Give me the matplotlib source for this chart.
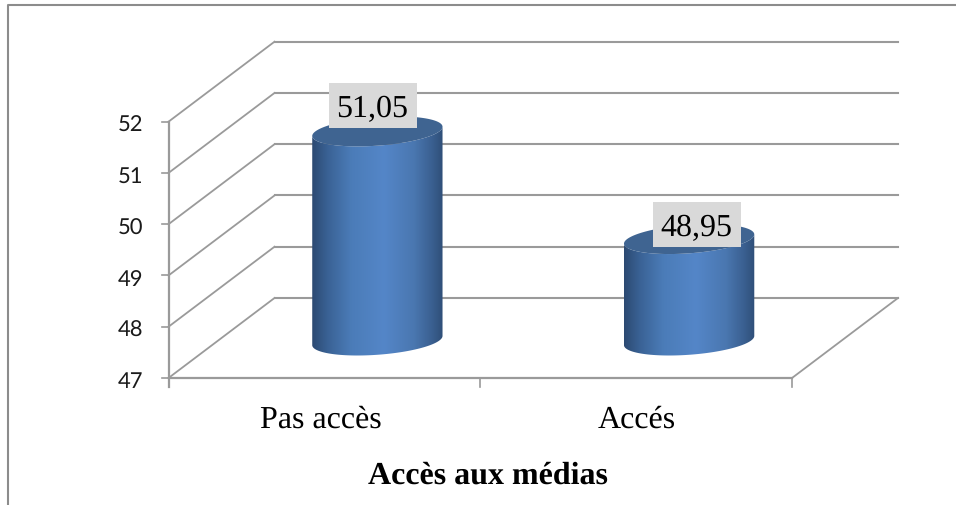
import numpy as np
import matplotlib
matplotlib.use('Agg')
import matplotlib.pyplot as plt
from matplotlib.colors import LinearSegmentedColormap
from matplotlib.patches import Polygon, Rectangle
from matplotlib.transforms import IdentityTransform

plt.rcParams['text.hinting'] = 'none'
plt.rcParams['text.hinting_factor'] = 1

# Data
categories = ['Pas accès', 'Accés']
values = [51.05, 48.95]
value_labels = ['51,05', '48,95']
y_ticks = [47, 48, 49, 50, 51, 52]
axis_title = 'Accès aux médias'

W, H = 956, 506
fig = plt.figure(figsize=(W / 100, H / 100), dpi=100)
ax = fig.add_axes([168.5 / W, 1 - 379 / H, (792 - 168.5) / W, (379 - 122.7) / H])
ax.set_xlim(0, len(categories))
ax.set_ylim(min(y_ticks), max(y_ticks))
ax.set_autoscale_on(False)
ax.axis('off')

px = IdentityTransform()
grid_color = '#9a9a9a'
depth_x, depth_y = 106, 80


def to_px(x, y):
    p = ax.transData.transform((x, y))
    return p[0], p[1]


def py(y_from_top):
    return H - y_from_top


# chart border, only top and left show in the picture
fig.add_artist(plt.Line2D([8 / W, 8 / W, 1], [0, 1 - 5.5 / H, 1 - 5.5 / H], color='#8c8c8c', lw=1.5))

# back walls and floor
for v in y_ticks:
    x0, y0 = to_px(0, v)
    x1, _ = to_px(len(categories), v)
    ax.plot([x0, x0 + depth_x], [y0, y0 + depth_y], color=grid_color, lw=1.3,
            transform=px, clip_on=False, zorder=1)
    ax.plot([x0 + depth_x, x1 + depth_x], [y0 + depth_y, y0 + depth_y], color=grid_color, lw=1.5,
            transform=px, clip_on=False, zorder=1)
    ax.plot([x0 - 7, x0], [y0, y0], color=grid_color, lw=1.2, transform=px, clip_on=False, zorder=1)
    ax.text(x0 - 38, y0 - 3, str(v), family='Lato', fontsize=16, ha='center', va='center',
            transform=px, color='#1a1a1a')

x0, y0 = to_px(0, y_ticks[0])
x1, _ = to_px(len(categories), y_ticks[0])
ax.plot([x0, x1], [y0, y0], color=grid_color, lw=1.6, transform=px, clip_on=False, zorder=2)
ax.plot([x1, x1 + depth_x], [y0, y0 + depth_y], color=grid_color, lw=1.3,
        transform=px, clip_on=False, zorder=2)
ax.plot([x0, x0], [y0 - 9, to_px(0, y_ticks[-1])[1]], color=grid_color, lw=1.6,
        transform=px, clip_on=False, zorder=2)
for i in range(1, len(categories) + 1):
    xt, _ = to_px(i, y_ticks[0])
    ax.plot([xt, xt], [y0 - 9, y0], color=grid_color, lw=1.2, transform=px, clip_on=False, zorder=2)

# cylinders
side = LinearSegmentedColormap.from_list('side', [
    (0.0, '#2c4a72'), (0.12, '#3a6295'), (0.3, '#4b7cb8'), (0.55, '#5486c8'),
    (0.78, '#4a77b0'), (0.92, '#3a5f90'), (1.0, '#2f4f78')])
grad = np.linspace(0, 1, 256).reshape(1, -1)
half_w, skew_x, half_d = 62, 20, 15
t = np.linspace(0, 2 * np.pi, 200)
ex = half_w * np.cos(t) + skew_x * np.sin(t)
ey = half_d * np.sin(t)
il, ir = np.argmin(ex), np.argmax(ex)

for i, v in enumerate(values):
    xc, ytop = to_px(i + 0.5, v)
    _, ybot = to_px(i + 0.5, y_ticks[0])
    xc += depth_x / 2
    ytop += depth_y / 2 - 1
    ybot += depth_y / 2 - 2.5

    # front half of an ellipse, left point to right point going underneath
    idx = np.arange(il, il + 200) % 200
    stop = np.where(idx == ir)[0][0]
    front = idx[:stop + 1]
    body = np.vstack([
        np.column_stack([xc + ex[front], ytop + ey[front]]),
        np.column_stack([xc + ex[front][::-1], ybot + ey[front][::-1]]),
    ])
    clip = Polygon(body, closed=True, transform=px, fc='none', ec='none')
    ax.add_patch(clip)
    im = ax.imshow(grad, cmap=side, aspect='auto', transform=px, zorder=3,
                   extent=(xc + ex.min(), xc + ex.max(), ybot - 20, ytop + 20))
    im.set_clip_path(clip)
    ax.add_patch(Polygon(np.column_stack([xc + ex, ytop + ey]), closed=True, transform=px,
                         fc='#3f6491', ec='none', zorder=4, clip_on=False))

# value labels, placed by hand like the source
label_boxes = [(329, 84, 88, 45), (653, 203, 88, 45)]
for (bx, by, bw, bh), txt in zip(label_boxes, value_labels):
    ax.add_patch(Rectangle((bx, py(by + bh)), bw, bh, transform=px, fc='#d9d9d9', ec='none',
                           zorder=5, clip_on=False))
    ax.text(bx + bw / 2 - 1, py(by + bh / 2 + 3), txt, family='Liberation Serif', fontsize=23,
            ha='center', va='center', transform=px, zorder=6, color='black')

label_x = [320.5, 636.5]
for name, lx in zip(categories, label_x):
    ax.text(lx, py(420), name, family='Liberation Serif', fontsize=23,
            ha='center', va='center', transform=px, color='black')

ax.text(487.5, py(476), axis_title, family='Liberation Serif', fontsize=23, fontweight='bold',
        ha='center', va='center', transform=px, color='black')

fig.savefig('out.png', dpi=100)
